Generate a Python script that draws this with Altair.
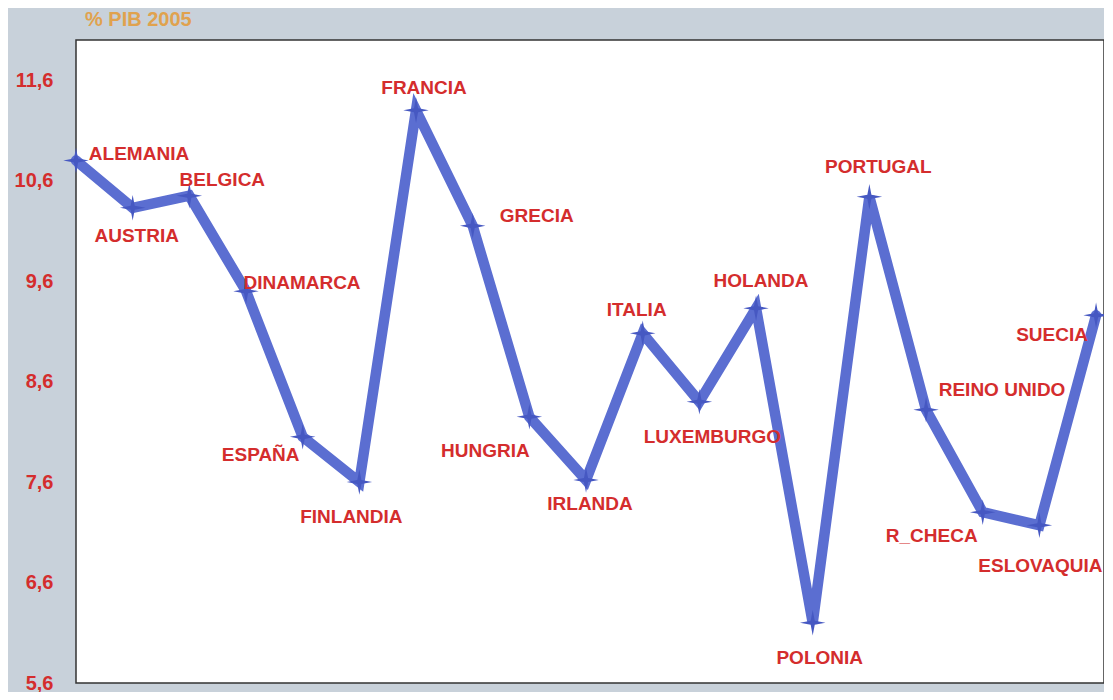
import altair as alt
import pandas as pd

paises = ["ALEMANIA", "AUSTRIA", "BELGICA", "DINAMARCA", "ESPAÑA", "FINLANDIA",
          "FRANCIA", "GRECIA", "HUNGRIA", "IRLANDA", "ITALIA", "LUXEMBURGO",
          "HOLANDA", "POLONIA", "PORTUGAL", "REINO  UNIDO", "R_CHECA",
          "ESLOVAQUIA", "SUECIA"]
valores = [10.8, 10.33, 10.45, 9.5, 8.05, 7.6, 11.3, 10.15, 8.25, 7.62,
           9.08, 8.4, 9.33, 6.2, 10.44, 8.32, 7.3, 7.17, 9.26]
ticks_y = [5.6, 6.6, 7.6, 8.6, 9.6, 10.6, 11.6]

# label offsets (pixels) relative to each point
label_dx = [63, 4, 33, 56, -42, -8, 8, 64, -44, 4, -6, 13, 5, 7, 9, 76, -51, 1, -44]
label_dy = [-7, 28, -16, -8, 18, 35, -22, -10, 34, 24, -23, 35, -27, 35, -30, -20, 24, 41, 20]

df = pd.DataFrame({"idx": list(range(len(paises))), "pais": paises, "valor": valores})

RED = "#d42d2d"
BLUE = "#5b6ed1"
FONT = "Liberation Sans"

x = alt.X("idx:Q", scale=alt.Scale(domain=[0, 18.14], nice=False, zero=False), axis=None)
y = alt.Y("valor:Q",
          scale=alt.Scale(domain=[5.6, 12.0], nice=False, zero=False),
          axis=alt.Axis(title=None, values=ticks_y,
                        labelExpr="replace(format(datum.value, '.1f'), '.', ',')",
                        labelColor=RED, labelFont=FONT, labelFontWeight="bold",
                        labelFontSize=20, labelPadding=23, ticks=False,
                        domain=False, grid=False))

base = alt.Chart(df)

line = base.mark_line(color=BLUE, strokeWidth=10.5, strokeJoin="miter", strokeCap="round").encode(x=x, y=y)

star = "M0,-1L0.16,-0.16L1,0L0.16,0.16L0,1L-0.16,0.16L-1,0L-0.16,-0.16Z"
points = base.mark_point(shape=star, filled=True, size=650, color="#4658c2", opacity=1).encode(x=x, y=y)

layers = [line, points]
for name, ddx, ddy in zip(paises, label_dx, label_dy):
    layers.append(
        base.transform_filter(alt.datum.pais == name)
        .mark_text(dx=ddx, dy=ddy, color=RED, font=FONT, fontWeight="bold",
                   fontSize=19, align="center", baseline="middle")
        .encode(x=x, y=y, text="pais:N")
    )

chart = alt.layer(*layers).properties(
    width=1028, height=643,
    autosize=alt.AutoSizeParams(type="none"),
    padding={"left": 68, "top": 32, "right": 0, "bottom": 9},
    background="#c8d1da",
    title=alt.TitleParams("% PIB 2005", anchor="start", frame="group", color="#e0a24e",
                          fontSize=20, font=FONT, fontWeight="bold", dx=9, offset=10),
).configure_view(fill="white", stroke="#333333", strokeWidth=1.5)

chart.save("out.html", embed_options={"renderer": "svg", "actions": False})
